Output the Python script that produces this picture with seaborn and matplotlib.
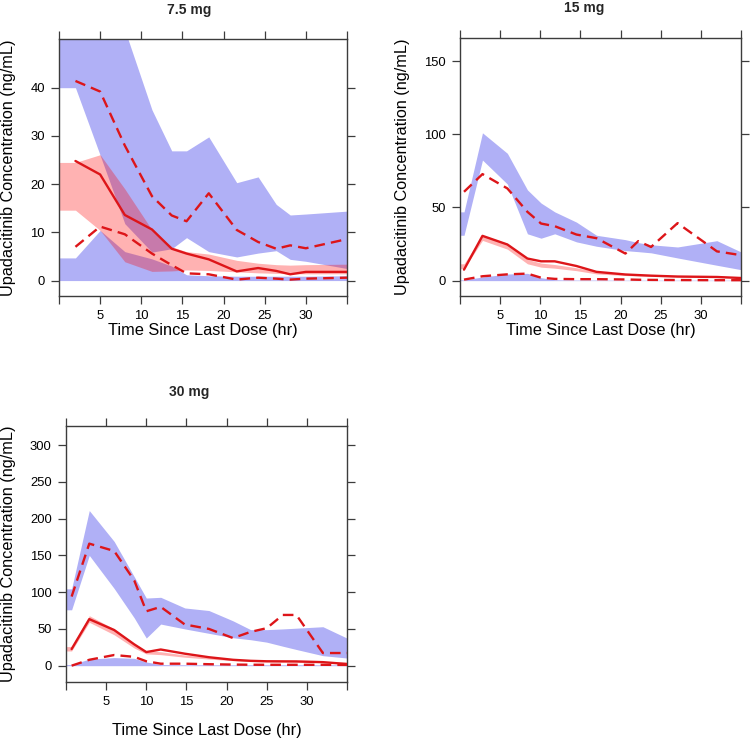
import numpy as np
import pandas as pd
import matplotlib
matplotlib.use("Agg")
import matplotlib.pyplot as plt
import seaborn as sns

sns.set_theme(style="ticks")
plt.rcParams["font.family"] = ["Liberation Sans", "DejaVu Sans"]

# ---------------- data ----------------
doses = ["7.5 mg", "15 mg", "30 mg"]

# 7.5 mg
t1 = [2, 5, 8, 11.3, 13.7, 15.5, 18.2, 21.6, 24.2, 26.4, 28.1, 30, 35]
obs_med1 = [24.8, 22.0, 13.6, 10.6, 6.6, 5.6, 4.4, 1.9, 2.6, 2.0, 1.3, 1.8, 1.8]
obs_hi1 = [41.4, 39.2, 28.0, 17.5, 13.5, 12.3, 18.1, 10.5, 8.0, 6.6, 7.3, 6.7, 8.6]
obs_lo1 = [7.0, 11.2, 9.6, 5.6, 3.2, 1.5, 1.3, 0.2, 0.6, 0.4, 0.2, 0.4, 0.6]
tb1 = [0, 2, 5, 8, 11.3, 13.7, 15.5, 18.2, 21.6, 24.2, 26.4, 28.1, 30, 35]
hi_top1 = [62, 62, 60, 52, 35.4, 26.9, 26.9, 29.8, 20.3, 21.5, 15.8, 13.6, 13.8, 14.4]
hi_bot1 = [40, 40, 26, 11.8, 5.9, 6.6, 8.9, 6.0, 4.9, 5.7, 6.2, 4.4, 4.0, 2.5]
med_top1 = [24.5, 24.5, 26.1, 19.0, 10.5, 7.0, 6.0, 5.5, 4.2, 3.6, 3.3, 3.2, 3.3, 3.4]
med_bot1 = [14.6, 14.6, 10.4, 3.9, 1.9, 2.0, 2.2, 2.1, 1.8, 1.6, 1.5, 1.4, 1.4, 1.4]
lo_top1 = [4.7, 4.7, 10.4, 6.0, 4.5, 3.0, 1.2, 1.0, 0.9, 0.9, 0.9, 0.9, 0.9, 1.0]
lo_bot1 = [0, 0, 0, 0, 0, 0, 0, 0, 0, 0, 0, 0, 0, 0]

# 15 mg
t2 = [0.5, 2.8, 5.9, 8.4, 10.1, 11.8, 14.5, 17.0, 20.6, 22.2, 23.8, 27.1, 32.0, 35.0]
obs_med2 = [7.5, 30.6, 24.7, 15.1, 13.2, 13.2, 10.0, 6.0, 4.2, 3.8, 3.4, 2.8, 2.5, 1.8]
obs_hi2 = [60.7, 72.8, 63.0, 47.0, 39.0, 37.2, 31.5, 29.0, 18.5, 27.0, 23.0, 39.3, 20.0, 17.4]
obs_lo2 = [0.7, 3.0, 4.3, 4.8, 2.0, 1.2, 1.0, 1.0, 0.8, 0.6, 0.5, 0.4, 0.3, 0.3]
tb2 = [0, 0.5, 2.8, 5.9, 8.4, 10.1, 11.8, 14.5, 17.0, 20.6, 22.2, 23.8, 27.1, 32.0, 35.0]
hi_top2 = [47, 47, 101, 87, 62, 53, 47, 40, 31, 28, 26, 24.5, 23, 27.3, 19.6]
hi_bot2 = [31, 31, 82.4, 66, 32, 29, 32, 26.5, 23.5, 20.5, 19.8, 19, 15.5, 10.5, 7.5]
med_top2 = [11.5, 11.5, 31, 25.5, 14.5, 12, 11, 8.8, 6.2, 4.6, 4.2, 3.8, 3.2, 2.8, 2.6]
med_bot2 = [8.2, 8.2, 27.5, 21.5, 11.5, 9.2, 8.5, 6.8, 4.6, 3.5, 3.2, 2.9, 2.5, 2.1, 1.9]
lo_top2 = [0.5, 0.5, 2.5, 4.5, 5.0, 2.0, 0.6, 0.4, 0.4, 0.3, 0.3, 0.3, 0.3, 0.3, 0.3]
lo_bot2 = [0, 0, 0, 0, 0, 0, 0, 0, 0, 0, 0, 0, 0, 0, 0]

# 30 mg
t3 = [0.7, 2.9, 6.0, 8.5, 10.0, 11.8, 14.8, 17.8, 20.8, 23.0, 25.0, 27.0, 28.7, 32.0, 35.0]
obs_med3 = [22.6, 63.3, 48.5, 29.0, 18.5, 22.0, 16.3, 11.5, 8.0, 6.6, 6.0, 5.9, 5.8, 4.8, 2.3]
obs_hi3 = [94, 166, 156, 116, 74, 80, 56, 50, 37.6, 46, 51, 69, 69, 17.2, 17.2]
obs_lo3 = [0, 8, 14.5, 12, 6, 2.7, 2.7, 2.0, 1.5, 1.3, 1.2, 1.2, 1.2, 1.2, 1.0]
tb3 = [0, 0.7, 2.9, 6.0, 8.5, 10.0, 11.8, 14.8, 17.8, 20.8, 23.0, 25.0, 27.0, 28.7, 32.0, 35.0]
hi_top3 = [104.5, 104.5, 211, 169, 121, 92, 93, 78.5, 75, 61, 49, 49, 50, 51, 53, 37.5]
hi_bot3 = [76, 76, 150, 105, 65, 37.6, 56.6, 50, 44, 38, 35.3, 32, 26.5, 22, 13.6, 10.4]
med_top3 = [26, 26, 68, 50, 30, 20, 19, 14.5, 11.5, 8.8, 7.2, 6.6, 6.2, 6.0, 5.4, 4.6]
med_bot3 = [20, 20, 59, 42, 24, 16, 15, 11.5, 9, 6.8, 5.6, 5.1, 4.8, 4.6, 4.2, 3.4]
lo_top3 = [1.5, 1.5, 9, 11, 10, 5, 1.5, 1.2, 1.2, 1.2, 1.2, 1.2, 1.2, 1.2, 1.2, 1.2]
lo_bot3 = [0, 0, 0, 0, 0, 0, 0, 0, 0, 0, 0, 0, 0, 0, 0, 0]

x_ticks = [0, 5, 10, 15, 20, 25, 30, 35]
x_ticklabels = ["", "5", "10", "15", "20", "25", "30", ""]
y_ticks = [[0, 10, 20, 30, 40], [0, 50, 100, 150], [0, 50, 100, 150, 200, 250, 300]]
y_lims = [(-3.2, 50.1), (-10.5, 165.8), (-22.2, 326)]
x_label = "Time Since Last Dose (hr)"
y_label = "Upadacitinib Concentration (ng/mL)"

# ---------------- layout (pixels) ----------------
W, H = 750, 740
boxes = [(59, 39, 347, 296), (460, 38, 741, 296), (66, 426, 347, 682)]
title_pos = [(189, 10), (584, 8), (189, 392)]
xlabel_y = [331, 330, 730]
ylabel_x = [9, 403, 9]

BLUE = "#B0B0F6"
RED = "#DD1519"
FRAME = "#3c3c3c"

panels = [
    dict(t=t1, med=obs_med1, hi=obs_hi1, lo=obs_lo1, tb=tb1, ht=hi_top1, hb=hi_bot1,
         mt=med_top1, mb=med_bot1, lt=lo_top1, lb=lo_bot1),
    dict(t=t2, med=obs_med2, hi=obs_hi2, lo=obs_lo2, tb=tb2, ht=hi_top2, hb=hi_bot2,
         mt=med_top2, mb=med_bot2, lt=lo_top2, lb=lo_bot2),
    dict(t=t3, med=obs_med3, hi=obs_hi3, lo=obs_lo3, tb=tb3, ht=hi_top3, hb=hi_bot3,
         mt=med_top3, mb=med_bot3, lt=lo_top3, lb=lo_bot3),
]

fig = plt.figure(figsize=(W / 100, H / 100), dpi=100)

for i, p in enumerate(panels):
    l, t, r, b = boxes[i]
    ax = fig.add_axes([l / W, 1 - b / H, (r - l) / W, (b - t) / H])

    bands = pd.DataFrame(dict(time=p["tb"], ht=p["ht"], hb=p["hb"], mt=p["mt"],
                              mb=p["mb"], lt=p["lt"], lb=p["lb"]))
    ax.fill_between(bands["time"], bands["lb"], bands["lt"], color=BLUE, lw=0, zorder=1)
    ax.fill_between(bands["time"], bands["hb"], bands["ht"], color=BLUE, lw=0, zorder=1)
    ax.fill_between(bands["time"], bands["mb"], bands["mt"], color="#FF0000", alpha=0.3,
                    lw=0, zorder=2)

    obs = pd.DataFrame(dict(time=p["t"], med=p["med"], hi=p["hi"], lo=p["lo"]))
    sns.lineplot(data=obs, x="time", y="med", ax=ax, color=RED, lw=1.7,
                 estimator=None, sort=False, zorder=3)
    for col in ["hi", "lo"]:
        sns.lineplot(data=obs, x="time", y=col, ax=ax, color=RED, lw=1.7,
                     linestyle=(0, (4.5, 2.6)), estimator=None, sort=False, zorder=3)

    ax.set_xlim(0, 35)
    ax.set_ylim(*y_lims[i])
    ax.set_xticks(x_ticks)
    ax.set_xticklabels(x_ticklabels)
    ax.set_yticks(y_ticks[i])
    ax.set_yticklabels([str(v) for v in y_ticks[i]])
    ax.tick_params(direction="out", length=5.8, width=0.9, color=FRAME,
                   top=True, right=True, labeltop=False, labelright=False,
                   labelsize=9.4, labelcolor="black", pad=4.5)
    for s in ax.spines.values():
        s.set_color(FRAME)
        s.set_linewidth(1.0)
        s.set_visible(True)

    ax.set_xlabel(x_label, fontsize=11.8, color="black")
    ax.set_ylabel(y_label, fontsize=11.7, color="black")
    ax.xaxis.label.set_va("center")
    ax.yaxis.label.set_va("center")
    ax.xaxis.set_label_coords(0.5, (b - xlabel_y[i]) / (b - t))
    ax.yaxis.set_label_coords((ylabel_x[i] - l) / (r - l), 0.5)

    tx, ty = title_pos[i]
    fig.text(tx / W, 1 - ty / H, doses[i], ha="center", va="center",
             fontsize=10, fontweight="bold")

fig.savefig("out.png", dpi=100)
